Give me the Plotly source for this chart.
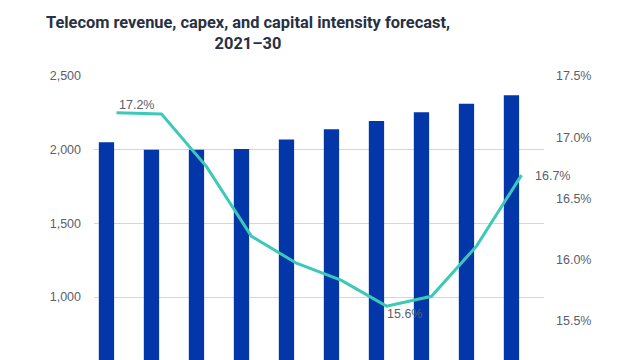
import plotly.graph_objects as go

years = ["2021", "2022", "2023", "2024", "2025", "2026", "2027", "2028", "2029", "2030"]
revenue = [2050, 2000, 2000, 2005, 2070, 2138, 2195, 2254, 2312, 2369]
capital_intensity = [17.2, 17.19, 16.76, 16.19, 15.97, 15.83, 15.62, 15.70, 16.11, 16.69]
label_idx = [0, 6, 9]
label_text = ["17.2%", "15.6%", "16.7%"]
left_ticks = [1000, 1500, 2000, 2500]
right_ticks = [15.5, 16.0, 16.5, 17.0, 17.5]

# page body has an 8px default margin; offsets below compensate for it
OFF = 8
top_px = 76 - OFF
plot_h = 360 - top_px

fig = go.Figure()
fig.add_trace(go.Bar(
    x=years, y=revenue, name="Revenue",
    marker=dict(color="#0336A9", line=dict(width=0)),
    width=0.34, offset=-0.393,
))
fig.add_trace(go.Scatter(
    x=years, y=capital_intensity, name="Capital intensity", yaxis="y2",
    mode="lines",
    line=dict(color="#3DC9B7", width=3),
))

label_font = dict(family="Liberation Sans, Arial, sans-serif", size=12.5, color="#5a606c")
shifts = {0: (0, 8), 6: (-2, -7.5), 9: (11, -1)}
for i, t in zip(label_idx, label_text):
    xs, ys = shifts[i]
    fig.add_annotation(
        x=i, y=capital_intensity[i], xref="x", yref="y2",
        text=t, showarrow=False, xanchor="left", yanchor="middle",
        xshift=xs, yshift=ys, font=label_font,
    )

fig.update_layout(
    width=640, height=360,
    margin=dict(l=94 - OFF, r=640 - (544 - OFF), t=top_px, b=0, autoexpand=False),
    paper_bgcolor="white", plot_bgcolor="white",
    showlegend=False,
    title=dict(
        text="<b>Telecom revenue, capex, and capital intensity forecast,</b><br><b>2021–30</b>",
        x=(248 - OFF) / 640, xanchor="center", xref="container",
        y=1 - 19.5 / 360, yanchor="top", yref="container",
        font=dict(family="Roboto, sans-serif", size=16.4, color="#283044"),
    ),
    xaxis=dict(
        type="category", range=[-0.5, 9.5], showticklabels=False,
        showgrid=False, zeroline=False, showline=False, ticks="",
    ),
    yaxis=dict(
        range=[2500 - plot_h * 500 / 73.7, 2500],
        tickvals=left_ticks, tickformat=",d",
        showgrid=True, gridcolor="#d3d6dd", gridwidth=1,
        zeroline=False, showline=False, ticks="",
        ticklabelstandoff=12,
        tickfont=dict(family="Liberation Sans, Arial, sans-serif", size=12.5, color="#5a606c"),
    ),
    yaxis2=dict(
        overlaying="y", side="right",
        range=[17.5 - plot_h / 122.4, 17.5],
        tickvals=right_ticks, ticktext=[f"{v:.1f}%" for v in right_ticks],
        showgrid=False, zeroline=False, showline=False, ticks="",
        ticklabelstandoff=11,
        tickfont=dict(family="Liberation Sans, Arial, sans-serif", size=12.5, color="#5a606c"),
    ),
)

fig.write_html("out.html")
